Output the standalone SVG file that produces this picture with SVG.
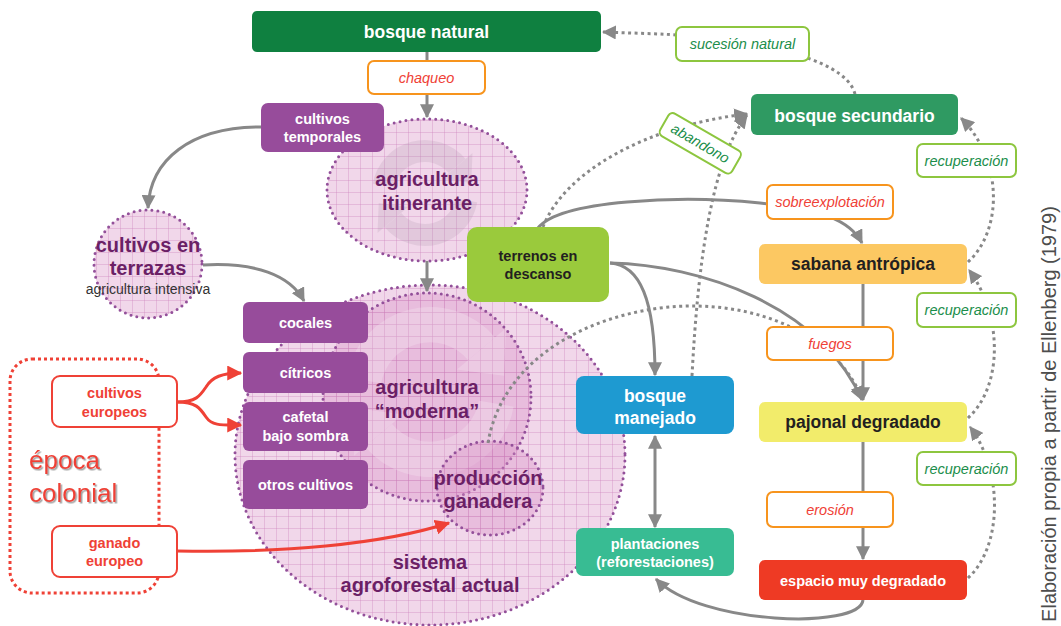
<svg xmlns="http://www.w3.org/2000/svg" width="1061" height="626" viewBox="0 0 1061 626">
<defs>
<style>
text{font-family:"Liberation Sans",Arial,Helvetica,sans-serif}
.c{text-anchor:middle}
.n17{font-size:17.5px;font-weight:bold}
.n14{font-size:14.5px;font-weight:bold}
.w{fill:#fff}
.dk{fill:#231f20}
.pu{fill:#6b1f66;font-weight:bold;font-size:20px}
.lo{fill:#fff;stroke:#f7941d;stroke-width:2}
.lg{fill:#fff;stroke:#8dc63f;stroke-width:2}
.to{fill:#ef4136;font-style:italic;font-size:14.5px}
.tg{fill:#1b8e4b;font-style:italic;font-size:14.5px}
.ell{fill:url(#grid);stroke:#93509a;stroke-width:3;stroke-dasharray:0 6;stroke-linecap:round}
.ed{fill:none;stroke:#888;stroke-width:3}
.dot{fill:none;stroke:#888;stroke-width:3;stroke-dasharray:3 3.5}
.red{fill:none;stroke:#ef4136;stroke-width:3}
.pb{fill:#974c9b}
.rb{fill:#fff;stroke:#ef4136;stroke-width:2}
.rt{fill:#ef4136;font-weight:bold;font-size:14.5px}
</style>
<pattern id="grid" width="12" height="12" patternUnits="userSpaceOnUse">
<rect width="12" height="12" fill="#d990c4" fill-opacity="0.36"/>
<path d="M0 0.5H12M0.5 0V12" stroke="#c774b3" stroke-opacity="0.3" stroke-width="1" fill="none"/>
</pattern>
<marker id="ag" viewBox="0 0 12 12" refX="11" refY="6" markerWidth="14" markerHeight="14" markerUnits="userSpaceOnUse" orient="auto-start-reverse">
<path d="M0,0 L12,6 L0,12 z" fill="#888"/>
</marker>
<marker id="ar" viewBox="0 0 12 12" refX="11" refY="6" markerWidth="15" markerHeight="15" markerUnits="userSpaceOnUse" orient="auto">
<path d="M0,0 L12,6 L0,12 z" fill="#ef4136"/>
</marker>
<filter id="sh" x="-10%" y="-10%" width="130%" height="130%">
<feDropShadow dx="1.5" dy="1.5" stdDeviation="0.6" flood-color="#999" flood-opacity="0.9"/>
</filter>
<g id="cyc">
<path d="M-41.4,-7.3 A42,42 0 0 1 32.2,-27" fill="none" stroke-width="22"/>
<path d="M47.5,-39.9 L16.9,-14.1 L46.3,-10.1 z" stroke="none"/>
<path d="M41.4,7.3 A42,42 0 0 1 -32.2,27" fill="none" stroke-width="22"/>
<path d="M-47.5,39.9 L-16.9,14.1 L-46.3,10.1 z" stroke="none"/>
</g>
</defs>

<g id="sistema-agroforestal-actual">
<ellipse class="ell" cx="430" cy="455" rx="195" ry="170"/>
<text class="pu c" x="430" y="569">sistema</text>
<text class="pu c" x="430" y="592">agroforestal actual</text>
</g>

<g id="agricultura-moderna">
<circle class="ell" cx="427" cy="397" r="104"/>
<use href="#cyc" transform="translate(430,392) scale(1.6)" fill="#f6eaf3" stroke="#f6eaf3" opacity="0.3"/>
<text class="pu c" x="427" y="394">agricultura</text>
<text class="pu c" x="427" y="418">“moderna”</text>
</g>

<g id="produccion-ganadera">
<ellipse class="ell" cx="490" cy="488" rx="53" ry="47"/>
<text class="pu c" x="488" y="485">producción</text>
<text class="pu c" x="488" y="508">ganadera</text>
</g>

<g id="agricultura-itinerante">
<ellipse class="ell" cx="427" cy="190" rx="100" ry="71"/>
<use href="#cyc" transform="translate(425,193)" fill="#a890a8" stroke="#a890a8" opacity="0.2"/>
<text class="pu c" x="427" y="186">agricultura</text>
<text class="pu c" x="427" y="210">itinerante</text>
</g>

<g id="cultivos-en-terrazas">
<circle class="ell" cx="148" cy="264" r="54"/>
<text class="pu c" x="148" y="252">cultivos en</text>
<text class="pu c" x="148" y="275">terrazas</text>
<text class="c" x="148" y="294" font-size="14" fill="#333">agricultura intensiva</text>
</g>

<g id="epoca-colonial">
<rect x="10" y="359" width="149" height="234" rx="22" fill="none" stroke="#ef4136" stroke-width="3" stroke-dasharray="3 3"/>
<g filter="url(#sh)">
<text x="29" y="469" font-size="26" fill="#ef4136">época</text>
<text x="29" y="502" font-size="26" fill="#ef4136">colonial</text>
</g>
</g>

<g id="connectors">
<path class="ed" d="M427,52 V117" marker-end="url(#ag)"/>
<path class="ed" d="M427,261 V291" marker-end="url(#ag)"/>
<path class="ed" d="M261,127 C190,127 150,160 148,208" marker-end="url(#ag)"/>
<path class="ed" d="M203,265 C255,262 290,275 304,301" marker-end="url(#ag)"/>
<path class="ed" d="M538,228 C560,200 680,195 760,203 C820,209 850,220 862,243" marker-end="url(#ag)"/>
<path class="ed" d="M610,263 C640,265 655,300 655,375" marker-end="url(#ag)"/>
<path class="ed" d="M610,263 C700,265 820,305 862,400" marker-end="url(#ag)"/>
<path class="ed" d="M863,284 V400" marker-end="url(#ag)"/>
<path class="ed" d="M863,442 V559" marker-end="url(#ag)"/>
<path class="ed" d="M863,600 C860,630 700,625 656,579" marker-end="url(#ag)"/>
<path class="ed" d="M655,436 V527" marker-start="url(#ag)" marker-end="url(#ag)"/>
<path class="dot" d="M855,94 C845,55 740,38 660,34 L603,32" marker-end="url(#ag)"/>
<path class="dot" d="M543,227 C565,170 650,125 747,114" marker-end="url(#ag)"/>
<path class="dot" d="M692,376 C698,260 712,160 747,115" marker-end="url(#ag)"/>
<path class="dot" d="M488,443 C500,370 570,320 660,308 C760,296 840,340 862,399" marker-end="url(#ag)"/>
<path class="dot" d="M968,262 C1003,230 1003,160 961,118" marker-end="url(#ag)"/>
<path class="dot" d="M968,418 C1003,386 1003,316 969,270" marker-end="url(#ag)"/>
<path class="dot" d="M968,578 C1003,546 1003,470 970,427" marker-end="url(#ag)"/>
<path class="red" d="M177,402 C196,402 200,396 206,387 C212,377 222,373 241,373" marker-end="url(#ar)"/>
<path class="red" d="M177,402 C196,402 200,408 206,417 C212,426 222,425 241,425" marker-end="url(#ar)"/>
<path class="red" d="M177,551 C280,553 380,545 449,523" marker-end="url(#ar)"/>
</g>

<g id="label-chaqueo"><rect class="lo" x="368" y="61" width="117" height="33" rx="6"/><text class="to c" x="426.5" y="83">chaqueo</text></g>
<g id="label-sucesion-natural"><rect class="lg" x="676" y="27" width="133" height="34" rx="6"/><text class="tg c" x="742.5" y="49">sucesión natural</text></g>
<g id="label-abandono" transform="translate(700.3,143.3) rotate(30)"><rect class="lg" x="-41.5" y="-13" width="83" height="26" rx="5"/><text class="tg c" x="0" y="5">abandono</text></g>
<g id="label-recuperacion-1"><rect class="lg" x="917" y="144" width="99" height="33" rx="6"/><text class="tg c" x="966.5" y="165.5">recuperación</text></g>
<g id="label-recuperacion-2"><rect class="lg" x="917" y="293" width="99" height="34" rx="6"/><text class="tg c" x="966.5" y="315">recuperación</text></g>
<g id="label-recuperacion-3"><rect class="lg" x="917" y="452" width="99" height="33" rx="6"/><text class="tg c" x="966.5" y="473.5">recuperación</text></g>
<g id="label-sobreexplotacion"><rect class="lo" x="767" y="185" width="126" height="34" rx="6"/><text class="to c" x="830" y="207">sobreexplotación</text></g>
<g id="label-fuegos"><rect class="lo" x="767" y="327" width="126" height="33" rx="6"/><text class="to c" x="830" y="348.5">fuegos</text></g>
<g id="label-erosion"><rect class="lo" x="767" y="492" width="126" height="35" rx="6"/><text class="to c" x="830" y="514.5">erosión</text></g>

<g id="bosque-natural"><rect x="252" y="11" width="349" height="41" rx="5" fill="#0f8040"/><text class="n17 w c" x="426.5" y="38">bosque natural</text></g>
<g id="bosque-secundario"><rect x="751" y="94" width="207" height="41" rx="6" fill="#2f9a62"/><text class="n17 w c" x="854.5" y="121.5">bosque secundario</text></g>
<g id="sabana-antropica"><rect x="759" y="244" width="208" height="40" rx="6" fill="#fcc862"/><text class="n17 dk c" x="863" y="270">sabana antrópica</text></g>
<g id="pajonal-degradado"><rect x="759" y="402" width="208" height="40" rx="6" fill="#f2ec6b"/><text class="n17 dk c" x="863" y="428">pajonal degradado</text></g>
<g id="espacio-muy-degradado"><rect x="759" y="560" width="208" height="40" rx="6" fill="#ee3a24"/><text class="n14 w c" x="863" y="585.5">espacio muy degradado</text></g>
<g id="terrenos-en-descanso"><rect x="467" y="227" width="142" height="75" rx="10" fill="#9aca3c"/><text class="n14 dk c" x="538" y="261">terrenos en</text><text class="n14 dk c" x="538" y="279">descanso</text></g>
<g id="bosque-manejado"><rect x="576" y="376" width="158" height="58" rx="8" fill="#1e9ad1"/><text class="n17 w c" x="655" y="402">bosque</text><text class="n17 w c" x="655" y="424">manejado</text></g>
<g id="plantaciones"><rect x="576" y="528" width="158" height="48" rx="7" fill="#38bc93"/><text class="n14 w c" x="655" y="549">plantaciones</text><text class="n14 w c" x="655" y="567">(reforestaciones)</text></g>
<g id="cultivos-temporales"><rect class="pb" x="261" y="103" width="123" height="49" rx="7"/><text class="n14 w c" x="322.5" y="124">cultivos</text><text class="n14 w c" x="322.5" y="142">temporales</text></g>
<g id="cocales"><rect class="pb" x="243" y="302" width="125" height="41" rx="6"/><text class="n14 w c" x="305.5" y="328">cocales</text></g>
<g id="citricos"><rect class="pb" x="243" y="352" width="125" height="41" rx="6"/><text class="n14 w c" x="305.5" y="378">cítricos</text></g>
<g id="cafetal-bajo-sombra"><rect class="pb" x="243" y="402" width="125" height="49" rx="6"/><text class="n14 w c" x="305.5" y="422">cafetal</text><text class="n14 w c" x="305.5" y="441">bajo sombra</text></g>
<g id="otros-cultivos"><rect class="pb" x="243" y="460" width="125" height="49" rx="6"/><text class="n14 w c" x="305.5" y="490">otros cultivos</text></g>
<g id="cultivos-europeos"><rect class="rb" x="52" y="376" width="125" height="51" rx="8"/><text class="rt c" x="114.5" y="398">cultivos</text><text class="rt c" x="114.5" y="417">europeos</text></g>
<g id="ganado-europeo"><rect class="rb" x="52" y="526" width="125" height="51" rx="8"/><text class="rt c" x="114.5" y="548">ganado</text><text class="rt c" x="114.5" y="566">europeo</text></g>

<g id="credit"><text class="c" transform="translate(1056,414) rotate(-90)" font-size="20" fill="#4d4d4d">Elaboración propia a partir de Ellenberg (1979)</text></g>
</svg>
